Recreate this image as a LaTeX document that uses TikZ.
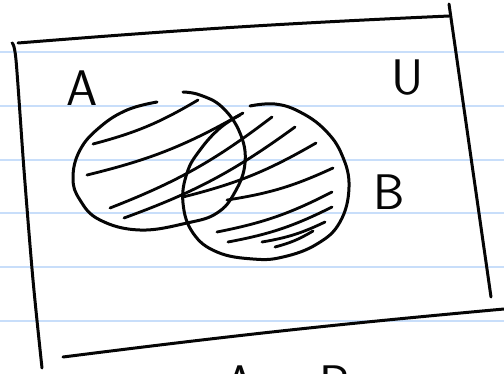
\documentclass[tikz,border=0pt]{standalone}
\usepackage{xcolor}
\definecolor{RuleBlue}{RGB}{200,222,250}
\definecolor{InkBlack}{RGB}{5,5,5}
\usepackage{tikz}
\usetikzlibrary{positioning}

\begin{document}
\begin{tikzpicture}[
  x=1pt,y=-1pt,
  rule/.style={RuleBlue,line width=2pt},
  ink/.style={InkBlack,line width=3pt,line cap=round,line join=round},
  hatch/.style={ink,line width=2.8pt},
  lbl/.style={text=InkBlack,font=\fontsize{50}{50}\selectfont\sffamily,inner sep=0pt}
]
  \useasboundingbox (0,0) rectangle (504,373);
  \fill[white] (0,0) rectangle (504,373);
  % ruled paper
  \foreach \y in {52,106,159.5,213,267,320.5}
    \draw[rule] (0,\y) -- (504,\y);
  % universe
  \draw[ink] (18,43) to[bend left=1] (449,16);
  \draw[ink] (449,4) -- (491,297);
  \draw[ink] plot[smooth] coordinates {(12,43) (16,60) (24,170) (33,280) (42,368)};
  \draw[ink] (63,357) to[bend left=1] (504,309);
  % sets
  \draw[ink] plot[smooth,tension=0.7] coordinates {(157,102) (127,110) (100,127) (80,150)
    (73,178) (80,200) (100,220) (140,230) (187,223) (217,213) (235,192) (245,163)
    (240,133) (222,107) (200,95) (183,92)};
  \draw[ink] plot[smooth,tension=0.7] coordinates {(250,106) (275,104) (300,112) (325,130)
    (342,155) (349,187) (340,222) (317,244) (283,257) (253,259) (217,252) (193,233)
    (183,203) (187,173) (200,150) (220,128) (240,115)};
  % shading of the union
  \foreach \xa/\ya/\xb/\yb in {93/144/198/100, 87/175/243/113, 110/208/272/117,
      124/218/295/127, 183/197/316/143, 227/200/333/168, 217/232/332/192,
      228/242/332/207, 262/242/325/222, 275/247/313/231}
    \draw[hatch] (\xa,\ya) to[bend right=8] (\xb,\yb);
  % labels
  \node[lbl] (labA) at (82,88) {A};
  \node[lbl] (labU) at (408,78) {U};
  \node[lbl] (labB) at (389,192) {B};
  \node[lbl,anchor=base] (union) at (288,400) {A\hspace{8pt} $\cup$\hspace{8pt} B};
\end{tikzpicture}
\end{document}
